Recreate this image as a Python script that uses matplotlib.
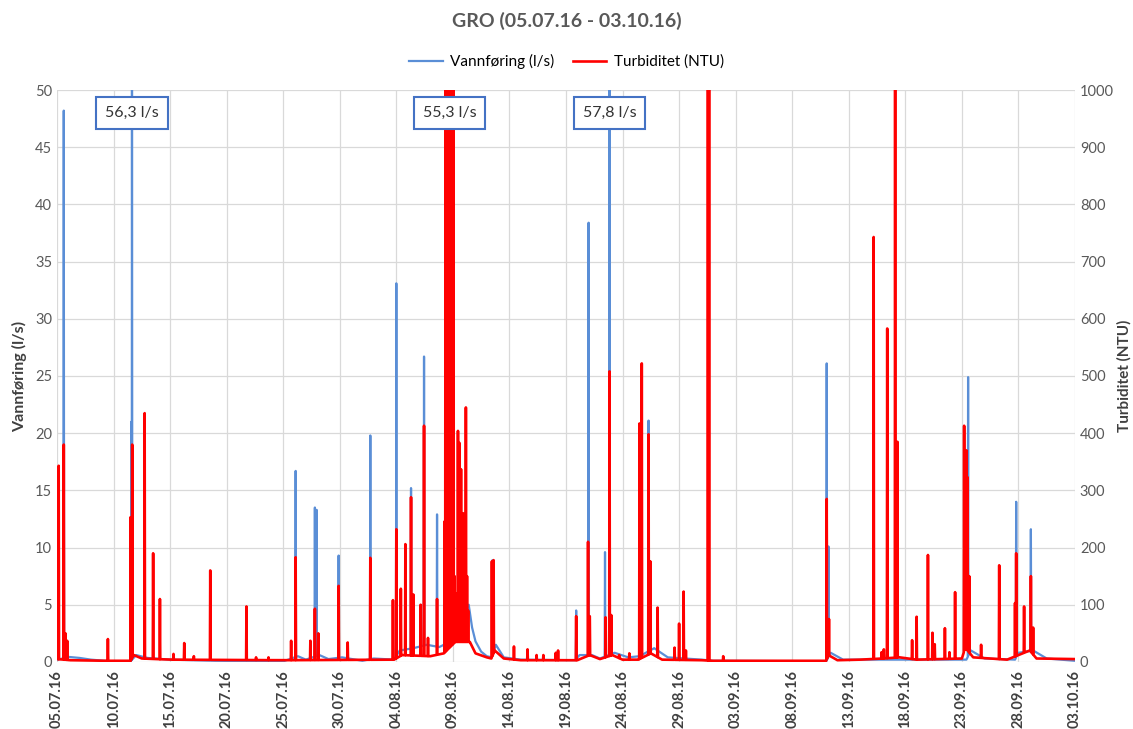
import datetime as dt

import matplotlib.pyplot as plt
import matplotlib.dates as mdates
import numpy as np

plt.rcParams['font.family'] = ['Lato', 'DejaVu Sans']

START = dt.datetime(2016, 7, 5)

# Vannføring (l/s): slow background flow, knots as (day offset, l/s)
flow_base_day = [0, 0.5, 0.9, 2, 3, 4, 4.8, 6.5, 7, 8, 10, 14, 20, 21.3, 22, 23.2, 24, 25.2, 27, 28,
                 29.8, 30.3, 31.5, 32.7, 33.8, 34.2, 35.0, 35.4, 36.4, 36.7, 37.0, 37.5, 38.0, 38.45,
                 38.8, 39.5, 41, 45.8, 46.2, 47.3, 48.0, 49.3, 50.5, 51.5, 52.8, 54, 57, 58, 68, 68.4,
                 69.5, 80.4, 80.8, 82, 84.7, 85, 86.3, 87.5, 90]
flow_base_val = [0.2, 0.3, 0.45, 0.35, 0.2, 0.12, 0.05, 0.05, 0.6, 0.35, 0.2, 0.1, 0.05, 0.5, 0.2, 0.6,
                 0.25, 0.4, 0.1, 0.3, 0.2, 1.0, 1.2, 1.5, 1.3, 1.5, 1.5, 3.0, 5.0, 3.0, 1.8, 0.9, 0.5,
                 0.4, 1.5, 0.4, 0.2, 0.15, 0.6, 0.6, 0.3, 0.8, 0.4, 0.5, 1.2, 0.4, 0.2, 0.1, 0.05, 0.8,
                 0.2, 0.2, 1.0, 0.3, 0.2, 0.8, 1.0, 0.3, 0.1]

# flow peaks (day offset, l/s)
flow_peak_day = [0.6, 6.58, 6.63, 21.1, 22.8, 22.95, 24.9, 27.7, 30.0, 31.3, 32.45, 33.6, 34.7,
                 35.6, 36.2, 38.5, 45.9, 47.0, 48.45, 48.85, 52.3, 68.05, 68.2, 80.55, 84.8, 86.1]
flow_peak_val = [48.2, 21.0, 56.3, 16.7, 13.5, 13.3, 9.3, 19.8, 33.1, 15.2, 26.7, 12.9, 55.3,
                 6.0, 6.0, 8.9, 4.5, 38.4, 9.6, 57.8, 21.1, 26.1, 10.1, 24.9, 14.0, 11.6]

# Turbiditet (NTU): background level
turb_base_day = [0, 1.2, 4.3, 6.5, 6.8, 7.5, 10, 20, 29.8, 30.5, 33, 34.2, 35.2, 36.5, 37, 38, 38.4,
                 38.7, 39.5, 41, 46, 47.1, 48, 49.1, 50, 51.4, 52.5, 53.5, 57, 58, 68, 68.2, 69, 71,
                 73, 74.5, 76, 80, 80.3, 81, 84, 86, 86.6, 90]
turb_base_val = [5, 3, 2, 2, 12, 6, 4, 3, 4, 12, 10, 15, 35, 35, 15, 8, 6, 20, 6, 3, 3, 12, 5, 12,
                 4, 4, 15, 4, 3, 2, 2, 12, 3, 4, 6, 8, 4, 6, 25, 8, 4, 20, 6, 5]

# turbidity peaks (day offset, NTU)
turb_peak_day = [0.15, 0.6, 0.75, 0.9, 4.5, 6.5, 6.65, 7.75, 8.5, 9.1, 10.3, 11.25, 12.1, 13.55,
                 16.75, 17.6, 18.7, 20.7, 21.1, 22.4, 22.8, 23.1, 24.9, 25.7, 27.7, 29.7, 30.0,
                 30.4, 30.8, 31.3, 31.5, 32.15, 32.45, 32.8, 33.6, 34.28,
                 34.35, 34.42, 34.5, 34.58, 34.65, 34.72, 34.8, 34.88, 34.95, 35.05, 35.15,
                 35.3, 35.45, 35.52, 35.58, 35.65, 35.72, 35.8, 35.9, 36.0, 36.15, 36.25, 36.35,
                 38.45, 38.6, 40.4, 41.6, 42.4, 43.0, 44.1, 44.3, 45.9, 46.95, 47.1, 48.5, 48.85,
                 49.0, 49.7, 50.6, 51.5, 51.7, 52.3, 52.45, 53.1, 54.6, 55.0, 55.4, 55.6, 57.55,
                 57.65, 58.9, 68.05, 68.25, 72.2, 72.9, 73.1, 73.4, 74.1, 74.3, 75.6, 76.0, 77.0,
                 77.4, 77.6, 78.5, 78.9, 79.4, 80.2, 80.3, 80.4, 80.5, 80.65, 81.7, 83.3, 84.7,
                 84.8, 85.5, 86.1, 86.3]
turb_peak_val = [343, 380, 50, 37, 40, 253, 380, 435, 190, 110, 14, 33, 10, 160,
                 97, 8, 8, 37, 183, 37, 93, 50, 133, 34, 182, 108, 232,
                 128, 206, 288, 118, 100, 413, 42, 110, 246,
                 1150, 400, 1150, 600, 1150, 500, 1150, 700, 1150, 1150, 150,
                 120, 404, 250, 383, 180, 337, 150, 260, 110, 445, 150, 90,
                 176, 178, 27, 22, 12, 12, 16, 20, 80, 210, 80, 78, 508,
                 82, 12, 15, 417, 522, 398, 176, 95, 25, 67, 123, 20, 1100,
                 1100, 10, 285, 75, 743, 17, 22, 583, 1100, 385, 38, 79, 187,
                 51, 31, 59, 17, 122, 413, 250, 370, 323, 150, 30, 169, 103,
                 190, 97, 150, 60]

tick_days = list(range(0, 91, 5))


def series(base_day, base_val, peak_day, peak_val, half=0.03):
    # background knots plus a narrow rise/fall around every peak
    pts = list(zip(base_day, base_val))
    for d, v in zip(peak_day, peak_val):
        pts.append((d - half, float(np.interp(d - half, base_day, base_val))))
        pts.append((d, v))
        pts.append((d + half, float(np.interp(d + half, base_day, base_val))))
    pts.sort()
    t0 = mdates.date2num(START)
    return [t0 + p[0] for p in pts], [p[1] for p in pts]


blue = '#5A8ED6'
red = '#FF0000'
grey = '#595959'

fig = plt.figure(figsize=(11.33, 7.29), dpi=100)
ax = fig.add_axes([0.0503, 0.092, 0.8985, 0.7845])
ax2 = ax.twinx()

fx, fy = series(flow_base_day, flow_base_val, flow_peak_day, flow_peak_val)
tx, ty = series(turb_base_day, turb_base_val, turb_peak_day, turb_peak_val)
l1, = ax.plot(fx, fy, color=blue, lw=1.6, label='Vannføring (l/s)')
l2, = ax2.plot(tx, ty, color=red, lw=1.9, label='Turbiditet (NTU)')

t0 = mdates.date2num(START)
ax.set_xlim(t0, t0 + 90)
ax.set_ylim(0, 50)
ax2.set_ylim(0, 1000)
ax.set_yticks(range(0, 51, 5))
ax2.set_yticks(range(0, 1001, 100))
ax.set_xticks([t0 + d for d in tick_days])
ax.xaxis.set_major_formatter(mdates.DateFormatter('%d.%m.%y'))
ax.grid(True, color='#d9d9d9', lw=0.9)
ax.set_axisbelow(True)
for a in (ax, ax2):
    for s in a.spines.values():
        s.set_visible(False)
    a.tick_params(length=0, colors=grey, labelsize=10.5)
ax.tick_params(axis='x', rotation=90, pad=6)
for lab in ax.get_xticklabels():
    lab.set_fontweight('bold')
    lab.set_color('#404040')

ax.set_ylabel('Vannføring (l/s)', fontsize=11.5, fontweight='bold', color='#404040', labelpad=6)
ax2.set_ylabel('Turbiditet (NTU)', fontsize=11, fontweight='bold', color='#404040', labelpad=2)

# value boxes for the flow peaks running off the top of the axis
for d, v in zip(flow_peak_day, flow_peak_val):
    if v > 50:
        ax2.text(t0 + d, 48, f'{v:.1f}'.replace('.', ',') + ' l/s', transform=ax.transData,
                 ha='center', va='center', fontsize=11.5, color='#333333', zorder=10,
                 bbox=dict(boxstyle='square,pad=0.55', fc='white', ec='#4472C4', lw=1.5))

fig.suptitle('GRO (05.07.16 - 03.10.16)', y=0.983, fontsize=14, fontweight='bold', color=grey)
fig.legend(handles=[l1, l2], loc='upper center', bbox_to_anchor=(0.5, 0.945), ncol=2,
           frameon=False, fontsize=11, handlelength=2.2, handletextpad=0.5, columnspacing=1.2)

fig.savefig('out.png', dpi=100)
